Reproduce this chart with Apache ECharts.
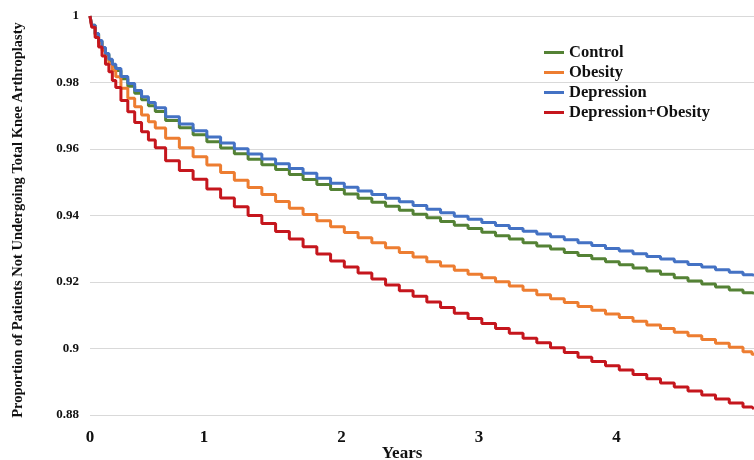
<!DOCTYPE html>
<html>
<head>
<meta charset="utf-8">
<script src="https://cdn.jsdelivr.net/npm/echarts@6/dist/echarts.min.js"></script>
<style>html,body{margin:0;padding:0;background:#fff}#c{width:754px;height:460px}</style>
</head>
<body>
<div id="c"></div>
<script>
const years = [0,0.025,0.05,0.075,0.1,0.125,0.15,0.175,0.2,0.25,0.3,0.35,0.4,0.45,0.5,0.6,0.7,0.8,0.9,1.0,1.1,1.2,1.3,1.4,1.5,1.6,1.7,1.8,1.9,2.0,2.1,2.2,2.3,2.4,2.5,2.6,2.7,2.8,2.9,3.0,3.1,3.2,3.3,3.4,3.5,3.6,3.7,3.8,3.9,4.0,4.1,4.2,4.3,4.4,4.5,4.6,4.7,4.8,4.83];
const control = [1.0,0.9972,0.9946,0.9924,0.9903,0.9884,0.9866,0.9850,0.9836,0.9811,0.9789,0.9768,0.9748,0.9730,0.9713,0.9686,0.9664,0.9643,0.9622,0.9603,0.9586,0.9569,0.9553,0.9538,0.9523,0.9508,0.9493,0.9478,0.9465,0.9452,0.9440,0.9428,0.9416,0.9404,0.9393,0.9382,0.9371,0.9361,0.9350,0.9339,0.9329,0.9318,0.9308,0.9299,0.9289,0.9280,0.9270,0.9261,0.9252,0.9242,0.9233,0.9223,0.9213,0.9203,0.9194,0.9185,0.9176,0.9168,0.9166];
const obesity = [1.0,0.9970,0.9943,0.9919,0.9897,0.9876,0.9857,0.9836,0.9817,0.9783,0.9753,0.9727,0.9702,0.9682,0.9663,0.9632,0.9604,0.9577,0.9552,0.9529,0.9506,0.9484,0.9463,0.9442,0.9422,0.9403,0.9384,0.9366,0.9349,0.9333,0.9318,0.9303,0.9289,0.9275,0.9261,0.9248,0.9235,0.9223,0.9213,0.9201,0.9188,0.9175,0.9162,0.9150,0.9138,0.9126,0.9115,0.9104,0.9093,0.9082,0.9071,0.9060,0.9049,0.9038,0.9027,0.9016,0.9004,0.8990,0.8983];
const depression = [1.0,0.9972,0.9947,0.9926,0.9905,0.9887,0.9870,0.9855,0.9842,0.9818,0.9797,0.9776,0.9757,0.9740,0.9724,0.9697,0.9675,0.9655,0.9636,0.9618,0.9601,0.9585,0.9570,0.9556,0.9541,0.9527,0.9512,0.9497,0.9485,0.9474,0.9463,0.9452,0.9441,0.9430,0.9419,0.9408,0.9398,0.9389,0.9379,0.9370,0.9361,0.9353,0.9344,0.9336,0.9327,0.9318,0.9310,0.9301,0.9293,0.9285,0.9277,0.9269,0.9261,0.9253,0.9245,0.9237,0.9229,0.9222,0.9220];
const depObesity = [1.0,0.9966,0.9935,0.9907,0.9880,0.9855,0.9832,0.9806,0.9785,0.9746,0.9712,0.9680,0.9652,0.9627,0.9604,0.9565,0.9535,0.9509,0.9480,0.9453,0.9426,0.9400,0.9376,0.9352,0.9329,0.9306,0.9284,0.9263,0.9245,0.9227,0.9209,0.9191,0.9174,0.9157,0.9140,0.9123,0.9106,0.9090,0.9075,0.9060,0.9046,0.9031,0.9017,0.9002,0.8988,0.8974,0.8961,0.8948,0.8935,0.8922,0.8909,0.8896,0.8884,0.8872,0.8860,0.8848,0.8836,0.8824,0.8818];
const seriesNames = ['Control','Obesity','Depression','Depression+Obesity'];
const xTickValues = [0,0.83,1.83,2.83,3.83];
const xTickLabels = ['0','1','2','3','4'];
const colors = ['#548235','#ED7D31','#4472C4','#C5161D'];

const font = 'Liberation Serif, Times New Roman, serif';
const allData = [control, obesity, depression, depObesity];
const chart = echarts.init(document.getElementById('c'), null, {renderer:'canvas'});
chart.setOption({
  animation:false,
  color: colors,
  grid:{left:90,right:0,top:16,bottom:45,containLabel:false,outerBoundsMode:'none'},
  legend:{
    orient:'vertical', left:544, top:44, padding:0, itemWidth:20, itemHeight:3, itemGap:3,
    icon:'rect',
    data: seriesNames,
    textStyle:{fontFamily:font,fontWeight:'bold',fontSize:16.5,color:'#111'}
  },
  xAxis:{
    type:'value', min:0, max:4.83,
    name:'Years', nameLocation:'middle', nameGap:30, nameMoveOverlap:false,
    nameTextStyle:{fontFamily:font,fontWeight:'bold',fontSize:17,color:'#111',padding:[0,40,0,0]},
    axisLine:{show:false}, axisTick:{show:false}, splitLine:{show:false},
    axisLabel:{
      customValues:xTickValues, margin:14,
      fontFamily:font,fontWeight:'bold',fontSize:17,color:'#111',
      formatter:function(v){const i=xTickValues.findIndex(t=>Math.abs(t-v)<1e-6);return i>=0?xTickLabels[i]:'';}
    }
  },
  yAxis:{
    type:'value', min:0.88, max:1, interval:0.02,
    name:'Proportion of Patients Not Undergoing Total Knee Arthroplasty',
    nameLocation:'middle', nameGap:64, nameRotate:90, nameMoveOverlap:false,
    nameTextStyle:{fontFamily:font,fontWeight:'bold',fontSize:14.5,color:'#111',padding:[0,9,0,0]},
    axisLine:{show:false}, axisTick:{show:false},
    splitLine:{lineStyle:{color:'#d9d9d9',width:1}},
    axisLabel:{margin:11,fontFamily:font,fontWeight:'bold',fontSize:13,color:'#111',
      formatter:function(v){return String(parseFloat(v.toFixed(2)));}}
  },
  series: seriesNames.map(function(n,i){
    return {name:n,type:'line',step:'middle',showSymbol:false,
      lineStyle:{width:3,color:colors[i]},
      data: years.map(function(t,j){return [t, allData[i][j]];})};
  })
});
</script>
</body>
</html>
